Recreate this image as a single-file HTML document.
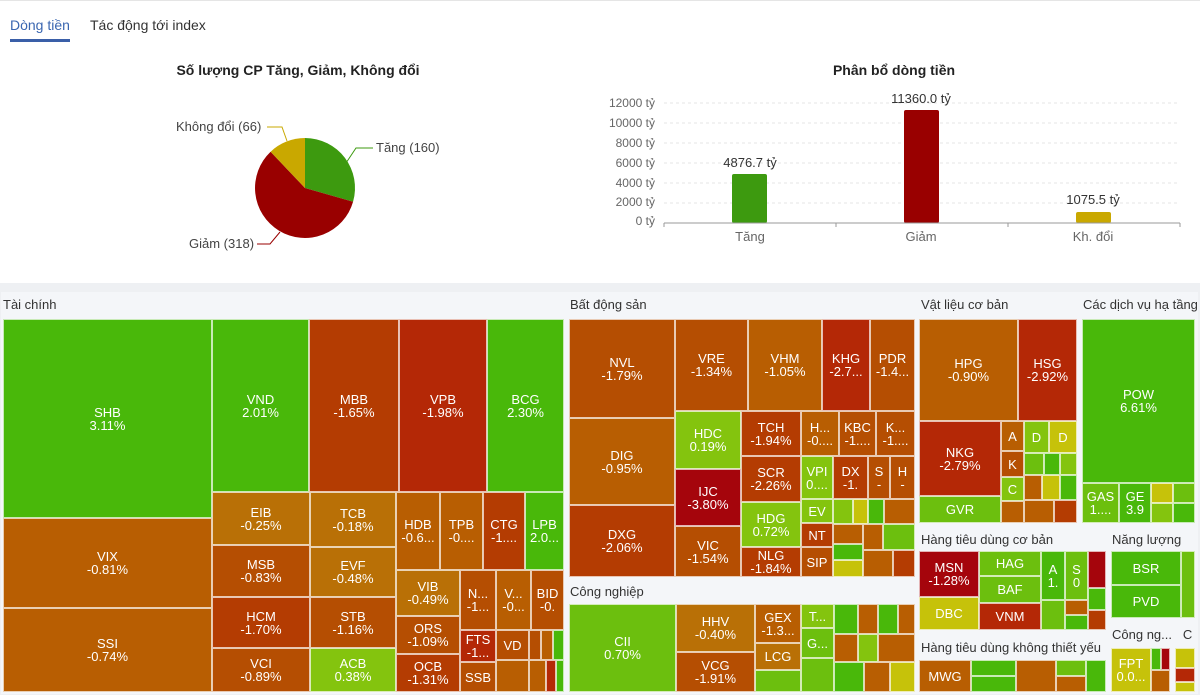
<!DOCTYPE html>
<html><head><meta charset="utf-8"><style>
body{margin:0;width:1200px;height:695px;overflow:hidden;background:#fff;font-family:"Liberation Sans",sans-serif;position:relative}
.a{position:absolute}
.c{position:absolute;box-sizing:border-box;border:1px solid rgba(255,255,255,.7);color:#fff;font:13px "Liberation Sans",sans-serif;display:flex;align-items:center;justify-content:center;text-align:center;line-height:13px;overflow:hidden;white-space:nowrap}
.h{position:absolute;font-size:13px;color:#333}
.G{background:#49b80a}.g{background:#6cbf0e}.L{background:#84c40e}.Y{background:#c6c20a}.O{background:#b85e02}.o{background:#b97006}.R{background:#b43c02}.r{background:#b42806}.D{background:#a5050c}.B{background:#b54e02}
</style></head><body>
<div class="a" style="left:0;top:0;width:1200px;height:1px;background:#e5e5e5"></div>
<div class="a" style="left:10px;top:17px;font-size:14px;color:#3a66b0">Dòng tiền</div>
<div class="a" style="left:10px;top:39px;width:60px;height:3px;background:#3a5fa8"></div>
<div class="a" style="left:90px;top:17px;font-size:14px;color:#333">Tác động tới index</div>
<div class="a" style="left:0;text-align:center;top:62px;font-size:14px;font-weight:bold;color:#222;width:596px">Số lượng CP Tăng, Giảm, Không đổi</div>
<div class="a" style="top:62px;font-size:14px;font-weight:bold;color:#222;left:596px;width:596px;text-align:center">Phân bổ dòng tiền</div>
<svg class="a" style="left:0;top:0" width="1200" height="285">
<g transform="translate(305,188)">
<path d="M0,0 L0,-50 A50,50 0 0 1 48.07,13.78 Z" fill="#3d9a0f"/>
<path d="M0,0 L48.07,13.78 A50,50 0 1 1 -34.4,-36.3 Z" fill="#990000"/>
<path d="M0,0 L-34.4,-36.3 A50,50 0 0 1 0,-50 Z" fill="#c9a800"/>
</g>
<polyline points="346,163 356,148 373,148" fill="none" stroke="#3d9a0f"/>
<polyline points="280,232 270,244 257,244" fill="none" stroke="#990000"/>
<polyline points="287,141 282,127 267,127" fill="none" stroke="#c9a800"/>
<text x="376" y="152" font-size="13" fill="#444" font-family="Liberation Sans">Tăng (160)</text>
<text x="189" y="248" font-size="13" fill="#444" font-family="Liberation Sans">Giảm (318)</text>
<text x="176" y="131" font-size="13" fill="#444" font-family="Liberation Sans">Không đổi (66)</text>
<g stroke="#e6e6e6" stroke-dasharray="3,3">
<line x1="664" x2="1180" y1="103" y2="103"/><line x1="664" x2="1180" y1="123" y2="123"/><line x1="664" x2="1180" y1="143" y2="143"/><line x1="664" x2="1180" y1="163" y2="163"/><line x1="664" x2="1180" y1="183" y2="183"/><line x1="664" x2="1180" y1="203" y2="203"/></g>
<g font-size="12" fill="#666" text-anchor="end" font-family="Liberation Sans">
<text x="655" y="107">12000 tỷ</text><text x="655" y="127">10000 tỷ</text><text x="655" y="147">8000 tỷ</text><text x="655" y="167">6000 tỷ</text><text x="655" y="187">4000 tỷ</text><text x="655" y="206">2000 tỷ</text><text x="655" y="225">0 tỷ</text></g>
<rect x="732" y="174" width="35" height="49" rx="2" fill="#3d9a0f"/>
<rect x="904" y="110" width="35" height="113" rx="2" fill="#990000"/>
<rect x="1076" y="212" width="35" height="11" rx="2" fill="#c9a800"/>
<line x1="664" x2="1180" y1="223" y2="223" stroke="#999"/>
<g stroke="#999"><line x1="664" x2="664" y1="223" y2="227"/><line x1="836" x2="836" y1="223" y2="227"/><line x1="1008" x2="1008" y1="223" y2="227"/><line x1="1180" x2="1180" y1="223" y2="227"/></g>
<g font-size="13" fill="#333" text-anchor="middle" font-family="Liberation Sans">
<text x="750" y="167">4876.7 tỷ</text><text x="921" y="103">11360.0 tỷ</text><text x="1093" y="204">1075.5 tỷ</text></g>
<g font-size="13" fill="#666" text-anchor="middle" font-family="Liberation Sans">
<text x="750" y="241">Tăng</text><text x="921" y="241">Giảm</text><text x="1093" y="241">Kh. đổi</text></g>
</svg>
<div class="a" style="left:0;top:283px;width:1200px;height:412px;background:#eef0f3"></div>
<div class="a" style="left:1px;top:292px;width:1197px;height:402px;background:#f4f6f9"></div>
<div class="h" style="left:3px;top:297px">Tài chính</div>
<div class="h" style="left:570px;top:297px">Bất động sản</div>
<div class="h" style="left:921px;top:297px">Vật liệu cơ bản</div>
<div class="h" style="left:1083px;top:297px">Các dịch vụ hạ tầng</div>
<div class="h" style="left:570px;top:584px">Công nghiệp</div>
<div class="h" style="left:921px;top:532px">Hàng tiêu dùng cơ bản</div>
<div class="h" style="left:1112px;top:532px">Năng lượng</div>
<div class="h" style="left:921px;top:640px">Hàng tiêu dùng không thiết yếu</div>
<div class="h" style="left:1112px;top:627px">Công ng...&nbsp;&nbsp; C</div>

<div class="c G" style="left:3px;top:319px;width:209px;height:199px">SHB<br>3.11%</div>
<div class="c O" style="left:3px;top:518px;width:209px;height:90px">VIX<br>-0.81%</div>
<div class="c O" style="left:3px;top:608px;width:209px;height:84px">SSI<br>-0.74%</div>
<div class="c G" style="left:212px;top:319px;width:97px;height:173px">VND<br>2.01%</div>
<div class="c R" style="left:309px;top:319px;width:90px;height:173px">MBB<br>-1.65%</div>
<div class="c r" style="left:399px;top:319px;width:88px;height:173px">VPB<br>-1.98%</div>
<div class="c G" style="left:487px;top:319px;width:77px;height:173px">BCG<br>2.30%</div>
<div class="c o" style="left:212px;top:492px;width:98px;height:53px">EIB<br>-0.25%</div>
<div class="c B" style="left:212px;top:545px;width:98px;height:52px">MSB<br>-0.83%</div>
<div class="c R" style="left:212px;top:597px;width:98px;height:51px">HCM<br>-1.70%</div>
<div class="c B" style="left:212px;top:648px;width:98px;height:44px">VCI<br>-0.89%</div>
<div class="c o" style="left:310px;top:492px;width:86px;height:55px">TCB<br>-0.18%</div>
<div class="c o" style="left:310px;top:547px;width:86px;height:50px">EVF<br>-0.48%</div>
<div class="c B" style="left:310px;top:597px;width:86px;height:51px">STB<br>-1.16%</div>
<div class="c L" style="left:310px;top:648px;width:86px;height:44px">ACB<br>0.38%</div>
<div class="c O" style="left:396px;top:492px;width:44px;height:78px">HDB<br>-0.6...</div>
<div class="c O" style="left:440px;top:492px;width:43px;height:78px">TPB<br>-0....</div>
<div class="c R" style="left:483px;top:492px;width:42px;height:78px">CTG<br>-1....</div>
<div class="c G" style="left:525px;top:492px;width:39px;height:78px">LPB<br>2.0...</div>
<div class="c o" style="left:396px;top:570px;width:64px;height:46px">VIB<br>-0.49%</div>
<div class="c B" style="left:396px;top:616px;width:64px;height:38px">ORS<br>-1.09%</div>
<div class="c R" style="left:396px;top:654px;width:64px;height:38px">OCB<br>-1.31%</div>
<div class="c B" style="left:460px;top:570px;width:36px;height:60px">N...<br>-1...</div>
<div class="c O" style="left:496px;top:570px;width:35px;height:60px">V...<br>-0...</div>
<div class="c B" style="left:531px;top:570px;width:33px;height:60px">BID<br>-0.</div>
<div class="c r" style="left:460px;top:630px;width:36px;height:32px">FTS<br>-1...</div>
<div class="c B" style="left:460px;top:662px;width:36px;height:30px">SSB</div>
<div class="c B" style="left:496px;top:630px;width:33px;height:30px">VD</div>
<div class="c O" style="left:496px;top:660px;width:33px;height:32px"></div>
<div class="c B" style="left:529px;top:630px;width:12px;height:30px"></div>
<div class="c O" style="left:541px;top:630px;width:12px;height:30px"></div>
<div class="c G" style="left:553px;top:630px;width:11px;height:30px"></div>
<div class="c O" style="left:529px;top:660px;width:17px;height:32px"></div>
<div class="c r" style="left:546px;top:660px;width:10px;height:32px"></div>
<div class="c G" style="left:556px;top:660px;width:8px;height:32px"></div>

<div class="c B" style="left:569px;top:319px;width:106px;height:99px">NVL<br>-1.79%</div>
<div class="c O" style="left:569px;top:418px;width:106px;height:87px">DIG<br>-0.95%</div>
<div class="c R" style="left:569px;top:505px;width:106px;height:72px">DXG<br>-2.06%</div>
<div class="c B" style="left:675px;top:319px;width:73px;height:92px">VRE<br>-1.34%</div>
<div class="c O" style="left:748px;top:319px;width:74px;height:92px">VHM<br>-1.05%</div>
<div class="c r" style="left:822px;top:319px;width:48px;height:92px">KHG<br>-2.7...</div>
<div class="c B" style="left:870px;top:319px;width:45px;height:92px">PDR<br>-1.4...</div>
<div class="c L" style="left:675px;top:411px;width:66px;height:58px">HDC<br>0.19%</div>
<div class="c D" style="left:675px;top:469px;width:66px;height:57px">IJC<br>-3.80%</div>
<div class="c B" style="left:675px;top:526px;width:66px;height:51px">VIC<br>-1.54%</div>
<div class="c R" style="left:741px;top:411px;width:60px;height:45px">TCH<br>-1.94%</div>
<div class="c R" style="left:741px;top:456px;width:60px;height:46px">SCR<br>-2.26%</div>
<div class="c L" style="left:741px;top:502px;width:60px;height:45px">HDG<br>0.72%</div>
<div class="c R" style="left:741px;top:547px;width:60px;height:30px">NLG<br>-1.84%</div>
<div class="c O" style="left:801px;top:411px;width:38px;height:45px">H...<br>-0....</div>
<div class="c B" style="left:839px;top:411px;width:37px;height:45px">KBC<br>-1....</div>
<div class="c B" style="left:876px;top:411px;width:39px;height:45px">K...<br>-1....</div>
<div class="c L" style="left:801px;top:456px;width:32px;height:43px">VPI<br>0....</div>
<div class="c R" style="left:833px;top:456px;width:35px;height:43px">DX<br>-1.</div>
<div class="c B" style="left:868px;top:456px;width:22px;height:43px">S<br>-</div>
<div class="c B" style="left:890px;top:456px;width:25px;height:43px">H<br>-</div>
<div class="c L" style="left:801px;top:499px;width:32px;height:24px">EV</div>
<div class="c R" style="left:801px;top:523px;width:32px;height:24px">NT</div>
<div class="c B" style="left:801px;top:547px;width:32px;height:30px">SIP</div>
<div class="c L" style="left:833px;top:499px;width:20px;height:25px"></div>
<div class="c Y" style="left:853px;top:499px;width:15px;height:25px"></div>
<div class="c G" style="left:868px;top:499px;width:16px;height:25px"></div>
<div class="c O" style="left:884px;top:499px;width:31px;height:25px"></div>
<div class="c O" style="left:833px;top:524px;width:30px;height:20px"></div>
<div class="c G" style="left:833px;top:544px;width:30px;height:16px"></div>
<div class="c Y" style="left:833px;top:560px;width:30px;height:17px"></div>
<div class="c O" style="left:863px;top:524px;width:20px;height:26px"></div>
<div class="c g" style="left:883px;top:524px;width:32px;height:26px"></div>
<div class="c O" style="left:863px;top:550px;width:30px;height:27px"></div>
<div class="c R" style="left:893px;top:550px;width:22px;height:27px"></div>

<div class="c g" style="left:569px;top:604px;width:107px;height:88px">CII<br>0.70%</div>
<div class="c o" style="left:676px;top:604px;width:79px;height:48px">HHV<br>-0.40%</div>
<div class="c B" style="left:676px;top:652px;width:79px;height:40px">VCG<br>-1.91%</div>
<div class="c O" style="left:755px;top:604px;width:46px;height:39px">GEX<br>-1.3...</div>
<div class="c o" style="left:755px;top:643px;width:46px;height:27px">LCG</div>
<div class="c g" style="left:755px;top:670px;width:46px;height:22px"></div>
<div class="c L" style="left:801px;top:604px;width:33px;height:24px">T...</div>
<div class="c g" style="left:801px;top:628px;width:33px;height:30px">G...</div>
<div class="c g" style="left:801px;top:658px;width:33px;height:34px"></div>
<div class="c G" style="left:834px;top:604px;width:24px;height:30px"></div>
<div class="c O" style="left:858px;top:604px;width:20px;height:30px"></div>
<div class="c G" style="left:878px;top:604px;width:20px;height:30px"></div>
<div class="c O" style="left:898px;top:604px;width:17px;height:30px"></div>
<div class="c O" style="left:834px;top:634px;width:24px;height:28px"></div>
<div class="c L" style="left:858px;top:634px;width:20px;height:28px"></div>
<div class="c O" style="left:878px;top:634px;width:37px;height:28px"></div>
<div class="c G" style="left:834px;top:662px;width:30px;height:30px"></div>
<div class="c O" style="left:864px;top:662px;width:26px;height:30px"></div>
<div class="c Y" style="left:890px;top:662px;width:25px;height:30px"></div>

<div class="c O" style="left:919px;top:319px;width:99px;height:102px">HPG<br>-0.90%</div>
<div class="c r" style="left:1018px;top:319px;width:59px;height:102px">HSG<br>-2.92%</div>
<div class="c r" style="left:919px;top:421px;width:82px;height:75px">NKG<br>-2.79%</div>
<div class="c g" style="left:919px;top:496px;width:82px;height:27px">GVR</div>
<div class="c O" style="left:1001px;top:421px;width:23px;height:30px">A</div>
<div class="c B" style="left:1001px;top:451px;width:23px;height:26px">K</div>
<div class="c L" style="left:1001px;top:477px;width:23px;height:24px">C</div>
<div class="c O" style="left:1001px;top:501px;width:23px;height:22px"></div>
<div class="c L" style="left:1024px;top:421px;width:25px;height:32px">D</div>
<div class="c Y" style="left:1049px;top:421px;width:28px;height:32px">D</div>
<div class="c g" style="left:1024px;top:453px;width:20px;height:22px"></div>
<div class="c G" style="left:1044px;top:453px;width:16px;height:22px"></div>
<div class="c L" style="left:1060px;top:453px;width:17px;height:22px"></div>
<div class="c O" style="left:1024px;top:475px;width:18px;height:25px"></div>
<div class="c Y" style="left:1042px;top:475px;width:18px;height:25px"></div>
<div class="c G" style="left:1060px;top:475px;width:17px;height:25px"></div>
<div class="c O" style="left:1024px;top:500px;width:30px;height:23px"></div>
<div class="c R" style="left:1054px;top:500px;width:23px;height:23px"></div>

<div class="c G" style="left:1082px;top:319px;width:113px;height:164px">POW<br>6.61%</div>
<div class="c g" style="left:1082px;top:483px;width:37px;height:40px">GAS<br>1....</div>
<div class="c G" style="left:1119px;top:483px;width:32px;height:40px">GE<br>3.9</div>
<div class="c Y" style="left:1151px;top:483px;width:22px;height:20px"></div>
<div class="c g" style="left:1173px;top:483px;width:22px;height:20px"></div>
<div class="c L" style="left:1151px;top:503px;width:22px;height:20px"></div>
<div class="c G" style="left:1173px;top:503px;width:22px;height:20px"></div>

<div class="c D" style="left:919px;top:551px;width:60px;height:46px">MSN<br>-1.28%</div>
<div class="c Y" style="left:919px;top:597px;width:60px;height:33px">DBC</div>
<div class="c g" style="left:979px;top:551px;width:62px;height:25px">HAG</div>
<div class="c g" style="left:979px;top:576px;width:62px;height:27px">BAF</div>
<div class="c r" style="left:979px;top:603px;width:62px;height:27px">VNM</div>
<div class="c G" style="left:1041px;top:551px;width:24px;height:49px">A<br>1.</div>
<div class="c g" style="left:1065px;top:551px;width:23px;height:49px">S<br>0</div>
<div class="c D" style="left:1088px;top:551px;width:18px;height:37px"></div>
<div class="c G" style="left:1088px;top:588px;width:18px;height:22px"></div>
<div class="c g" style="left:1041px;top:600px;width:24px;height:30px"></div>
<div class="c O" style="left:1065px;top:600px;width:23px;height:15px"></div>
<div class="c G" style="left:1065px;top:615px;width:23px;height:15px"></div>
<div class="c R" style="left:1088px;top:610px;width:18px;height:20px"></div>

<div class="c G" style="left:1111px;top:551px;width:70px;height:34px">BSR</div>
<div class="c G" style="left:1111px;top:585px;width:70px;height:33px">PVD</div>
<div class="c g" style="left:1181px;top:551px;width:14px;height:67px"></div>
<div class="c Y" style="left:1111px;top:648px;width:40px;height:44px">FPT<br>0.0...</div>
<div class="c G" style="left:1151px;top:648px;width:10px;height:22px"></div>
<div class="c D" style="left:1161px;top:648px;width:9px;height:22px"></div>
<div class="c O" style="left:1151px;top:670px;width:19px;height:22px"></div>
<div class="c Y" style="left:1175px;top:648px;width:20px;height:20px"></div>
<div class="c r" style="left:1175px;top:668px;width:20px;height:14px"></div>
<div class="c Y" style="left:1175px;top:682px;width:20px;height:10px"></div>

<div class="c O" style="left:919px;top:660px;width:52px;height:32px">MWG</div>
<div class="c G" style="left:971px;top:660px;width:45px;height:16px"></div>
<div class="c G" style="left:971px;top:676px;width:45px;height:16px"></div>
<div class="c O" style="left:1016px;top:660px;width:40px;height:32px"></div>
<div class="c g" style="left:1056px;top:660px;width:30px;height:16px"></div>
<div class="c O" style="left:1056px;top:676px;width:30px;height:16px"></div>
<div class="c G" style="left:1086px;top:660px;width:20px;height:32px"></div>
</body></html>
